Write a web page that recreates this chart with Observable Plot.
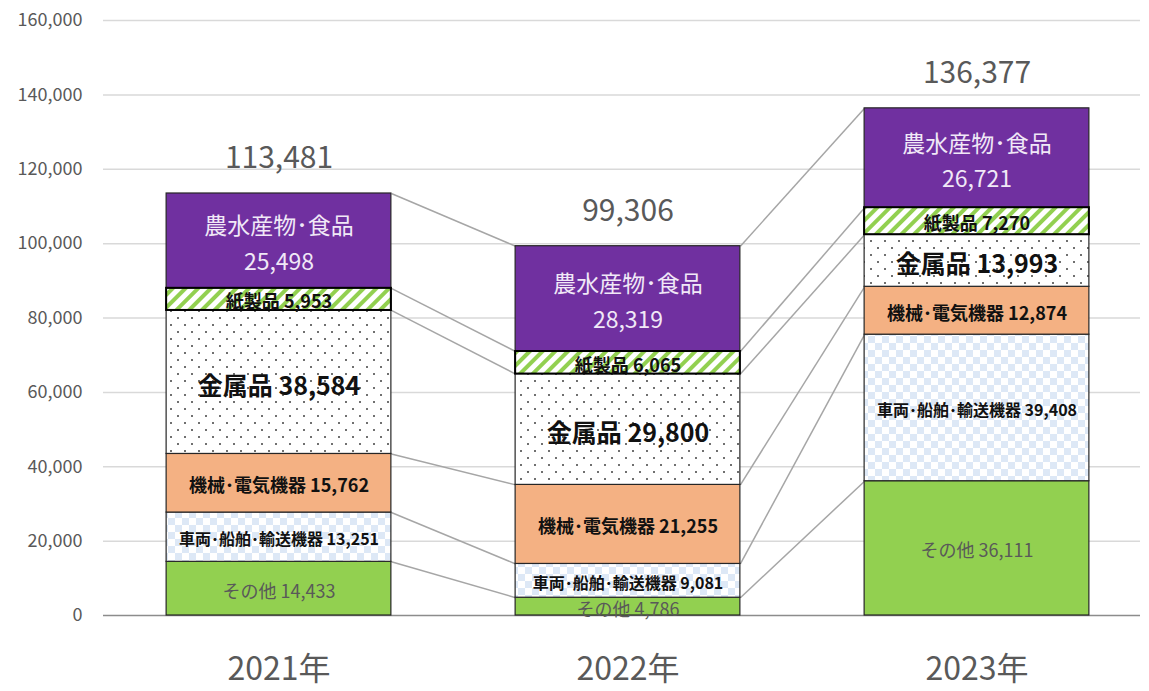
<!DOCTYPE html>
<html><head><meta charset="utf-8">
<script src="https://cdn.jsdelivr.net/npm/d3@7"></script>
<script src="https://cdn.jsdelivr.net/npm/@observablehq/plot@0.6"></script>
<style>
body{margin:0;background:#fff;}
#chart svg{font-family:"Noto Sans CJK JP","Noto Sans",sans-serif;}
</style>
</head><body><div id="chart"></div>
<script>
const years = ["2021年", "2022年", "2023年"];
const categories = ["その他", "車両･船舶･輸送機器", "機械･電気機器", "金属品", "紙製品", "農水産物･食品"];
const sonota  = [14433, 4786, 36111];
const sharyo  = [13251, 9081, 39408];
const kikai   = [15762, 21255, 12874];
const kinzoku = [38584, 29800, 13993];
const kami    = [5953, 6065, 7270];
const nosui   = [25498, 28319, 26721];
const totals  = [113481, 99306, 136377];
const yTicks  = [0, 20000, 40000, 60000, 80000, 100000, 120000, 140000, 160000];

const series = [sonota, sharyo, kikai, kinzoku, kami, nosui];
const fmt = d3.format(",");
const fills = ["#92d050", "url(#checker)", "#f4b183", "url(#dots)", "url(#stripes)", "#7030a0"];
const labelStyle = [
  {size: 18, weight: "normal", color: "#595959"},
  {size: 16, weight: "bold", color: "#111"},
  {size: 18, weight: "bold", color: "#111"},
  {size: 25, weight: "bold", color: "#111"},
  {size: 18, weight: "bold", color: "#111"},
  {size: 23, weight: "normal", color: "#f0e8f7"}
];
const hw = 0.322;

const rows = [];
years.forEach((yr, i) => {
  let acc = 0;
  categories.forEach((cat, k) => {
    const v = series[k][i];
    rows.push({i, k, cat, v, y1: acc, y2: acc + v});
    acc += v;
  });
});
const links = [];
for (let i = 0; i < years.length - 1; i++) {
  categories.forEach((cat, k) => {
    const a = rows.find(r => r.i === i && r.k === k);
    const b = rows.find(r => r.i === i + 1 && r.k === k);
    links.push({x1: i + hw, x2: i + 1 - hw, y1: a.y2, y2: b.y2});
  });
}
const labelText = r => r.k === 5 ? `${r.cat}\n${fmt(r.v)}` : `${r.cat} ${fmt(r.v)}`;

const svg = Plot.plot({
  width: 1149,
  height: 691,
  marginLeft: 103,
  marginRight: 9,
  marginTop: 20,
  marginBottom: 76,
  style: {color: "#595959", background: "white", fontFamily: '"Noto Sans CJK JP", sans-serif'},
  x: {type: "linear", domain: [-0.5, 2.5], range: [104, 1151]},
  y: {domain: [0, 160000]},
  color: {type: "identity"},
  marks: [
    Plot.ruleY(yTicks.filter(d => d > 0), {stroke: "#d9d9d9", strokeWidth: 1.5}),
    Plot.link(links, {x1: "x1", x2: "x2", y1: "y1", y2: "y2", stroke: "#a6a6a6", strokeWidth: 1.5}),
    Plot.ruleY([0], {stroke: "#8c8c8c", strokeWidth: 1.3}),
    Plot.rectY(rows, {x1: r => r.i - hw, x2: r => r.i + hw, y1: "y1", y2: "y2", fill: r => fills[r.k], stroke: "#262626", strokeWidth: 1.2}),
    Plot.rectY(rows.filter(r => r.k === 4), {x1: r => r.i - hw, x2: r => r.i + hw, y1: "y1", y2: "y2", fill: "none", stroke: "#000", strokeWidth: 2}),
    ...categories.map((cat, k) => Plot.text(rows.filter(r => r.k === k), {
      x: "i", y: r => (r.y1 + r.y2) / 2, text: labelText,
      fontSize: labelStyle[k].size, fontWeight: labelStyle[k].weight, fill: labelStyle[k].color,
      lineHeight: 1.55
    })),
    Plot.text(totals, {x: (d, i) => i, y: d => d, text: d => fmt(d), dy: -35, fontSize: 30, fill: "#595959"}),
    Plot.axisY({ticks: yTicks, tickSize: 0, tickPadding: 21, tickFormat: fmt, fontSize: 18, label: null}),
    Plot.axisX({ticks: [0, 1, 2], tickSize: 0, tickPadding: 42, tickFormat: i => years[i], fontSize: 32, label: null})
  ]
});

const defs = document.createElementNS("http://www.w3.org/2000/svg", "defs");
defs.innerHTML = `
<pattern id="dots" patternUnits="userSpaceOnUse" width="14" height="14">
  <rect width="14" height="14" fill="#fff"/>
  <circle cx="3" cy="3" r="1" fill="#404040"/>
  <circle cx="10" cy="10" r="1" fill="#404040"/>
</pattern>
<pattern id="checker" patternUnits="userSpaceOnUse" width="14" height="14">
  <rect width="14" height="14" fill="#fff"/>
  <rect x="0" y="0" width="7" height="7" fill="#dde8f6"/>
  <rect x="7" y="7" width="7" height="7" fill="#dde8f6"/>
</pattern>
<pattern id="stripes" patternUnits="userSpaceOnUse" width="9" height="9" patternTransform="rotate(45)">
  <rect width="9" height="9" fill="#fff"/>
  <rect width="4" height="9" fill="#92d050"/>
</pattern>`;
svg.insertBefore(defs, svg.firstChild);
document.getElementById("chart").appendChild(svg);
</script>
</body></html>
